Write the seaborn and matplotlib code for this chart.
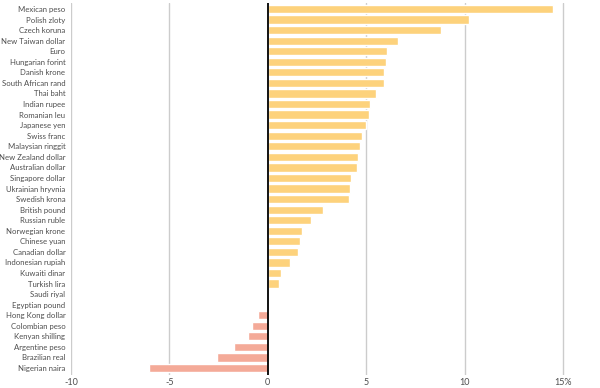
import numpy as np
import pandas as pd
import seaborn as sns
import matplotlib.pyplot as plt

# currencies vs the dollar, % change
currencies = ["Mexican peso", "Polish zloty", "Czech koruna", "New Taiwan dollar", "Euro",
              "Hungarian forint", "Danish krone", "South African rand", "Thai baht", "Indian rupee",
              "Romanian leu", "Japanese yen", "Swiss franc", "Malaysian ringgit", "New Zealand dollar",
              "Australian dollar", "Singapore dollar", "Ukrainian hryvnia", "Swedish krona", "British pound",
              "Russian ruble", "Norwegian krone", "Chinese yuan", "Canadian dollar", "Indonesian rupiah",
              "Kuwaiti dinar", "Turkish lira", "Saudi riyal", "Egyptian pound", "Hong Kong dollar",
              "Colombian peso", "Kenyan shilling", "Argentine peso", "Brazilian real", "Nigerian naira"]
change = [14.47, 10.2, 8.78, 6.6, 6.04,
          6.0, 5.91, 5.89, 5.48, 5.18,
          5.13, 4.97, 4.8, 4.67, 4.6,
          4.53, 4.2, 4.16, 4.13, 2.8,
          2.17, 1.76, 1.62, 1.52, 1.12,
          0.66, 0.57, 0.0, 0.0, -0.52,
          -0.78, -1.0, -1.71, -2.6, -6.04]
ticks = [-10, -5, 0, 5, 10, 15]
tick_labels = ["-10", "-5", "0", "5", "10", "15%"]

df = pd.DataFrame({"currency": currencies, "change": change})
colors = ["#FDD27C" if v >= 0 else "#F4AA98" for v in change]

sns.set_style("white")
plt.rcParams['font.family'] = ['Lato', 'DejaVu Sans']

fig = plt.figure(figsize=(6, 3.88), dpi=100)
ax = fig.add_axes([0.1183, 0.0335, 0.853, 0.9588])

sns.barplot(data=df, x="change", y="currency", hue="currency", palette=colors,
            legend=False, width=0.78, saturation=1, ax=ax, zorder=2)

for t in ticks:
    if t == 0:
        ax.axvline(0, color="black", lw=1.3, zorder=3)
    else:
        ax.axvline(t, color="#cccccc", lw=1.0, zorder=1)

ax.set_xlim(-10, 16)
ax.set_ylim(34.66, -0.57)
ax.set_xticks(ticks)
ax.set_xticklabels(tick_labels)
ax.set_xlabel("")
ax.set_ylabel("")
ax.tick_params(axis="both", length=0, colors="#4d4d4d")
ax.tick_params(axis="x", pad=2, labelsize=6.5)
ax.tick_params(axis="y", pad=4, labelsize=5.6)
sns.despine(left=True, bottom=True)

fig.savefig("out.png", dpi=100)
